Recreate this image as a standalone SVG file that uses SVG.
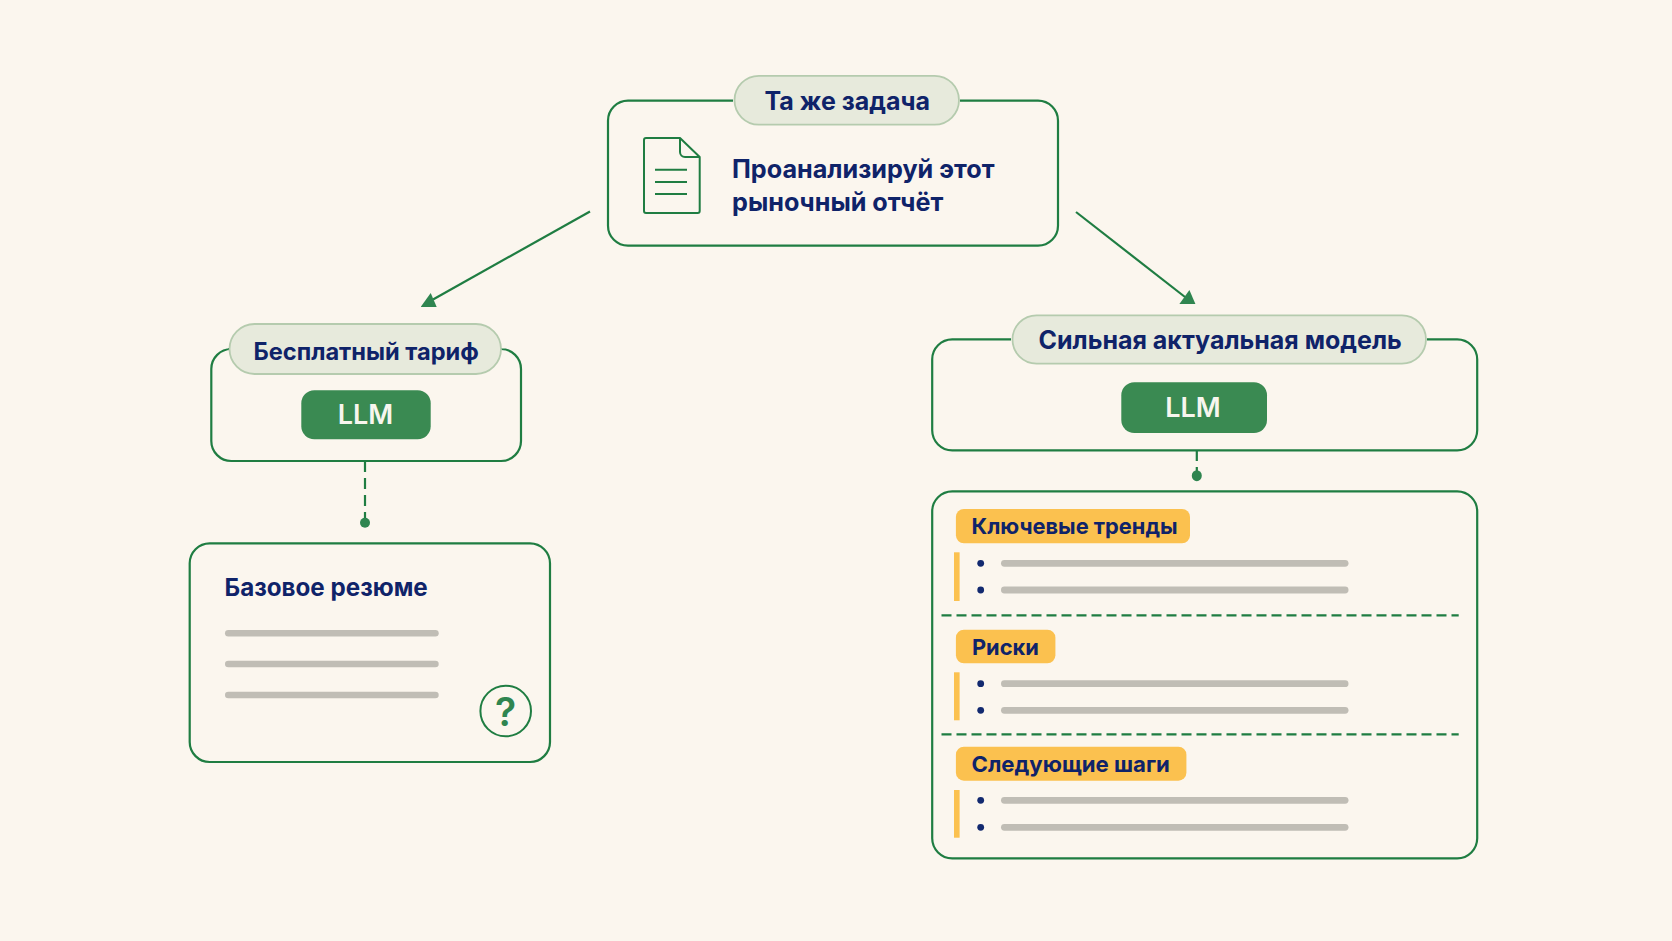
<svg xmlns="http://www.w3.org/2000/svg" width="1672" height="941" viewBox="0 0 1672 941">
<style>
.box{fill:none;stroke:#1f7d42;stroke-width:2.2}
.pill{fill:#e7eadc;stroke:#b5cbae;stroke-width:1.8}
.llm{fill:#3a8a52}
.tag{fill:#fbc14f}
.side{fill:#fbc14f}
.bar{fill:#c0bdb5}
.dot{fill:#12296f}
text{font-family:Inter,"Noto Sans","Liberation Sans",sans-serif;font-weight:700;fill:#0f2369}
.t26{font-size:25px}
.t24{font-size:23.6px}
.t22{font-size:21.8px}
.llmt{font-size:27px;fill:#f7f6ee;text-anchor:middle;font-weight:600}
.conn{fill:none;stroke:#1f7d42;stroke-width:2.2}
.dash{stroke-dasharray:11 6}
.sep{stroke-dasharray:10 5}
.end{fill:#2f8550}
</style>
<defs>
<marker id="arrow-l" markerUnits="userSpaceOnUse" markerWidth="18" markerHeight="16" refX="12.3" refY="6.5" orient="0"><polygon points="0,14 16,14 10,0" fill="#2f8550"/></marker>
<marker id="arrow-r" markerUnits="userSpaceOnUse" markerWidth="18" markerHeight="16" refX="5.6" refY="7" orient="0"><polygon points="0,14 16,14 10,0" fill="#2f8550"/></marker>
</defs>
<rect width="1672" height="941" fill="#fbf6ee"/>
<g id="connectors">
<line class="conn" x1="590" y1="211.5" x2="433" y2="299.5" marker-end="url(#arrow-l)"/>
<line class="conn" x1="1076" y1="212" x2="1185" y2="297" marker-end="url(#arrow-r)"/>
<line class="conn dash" x1="365" y1="461" x2="365" y2="518"/>
<circle class="end" cx="365" cy="522.7" r="5"/>
<line class="conn dash" x1="1196.8" y1="450" x2="1196.8" y2="472" stroke-dasharray="11 5"/>
<ellipse class="end" cx="1196.8" cy="475.7" rx="5" ry="5.5"/>
</g>
<g id="task">
<path class="box" d="M733 100.7H628a20 20 0 0 0-20 20V225.7a20 20 0 0 0 20 20H1038a20 20 0 0 0 20-20V120.7a20 20 0 0 0-20-20H960"/>
<rect class="pill" x="734.5" y="75.8" width="224.5" height="48.9" rx="24.4"/>
<text class="t26" x="764.5" y="110">Та же задача</text>
<g id="doc-icon" fill="none" stroke="#1f7d42" stroke-width="2" stroke-linejoin="round">
<path d="M646 138H680L699.7 157V211a2 2 0 0 1-2 2H646a2 2 0 0 1-2-2V140a2 2 0 0 1 2-2Z"/>
<path d="M680 138V152a5 5 0 0 0 5 5H699.7"/>
<path d="M655 169.7H687M655 182H687M655 194H687"/>
</g>
<text x="732" y="178" style="font-size:25.2px">Проанализируй этот</text>
<text x="732" y="210.5" style="font-size:25.2px">рыночный отчёт</text>
</g>
<g id="free-tier">
<path class="box" d="M228 349H231.3a20 20 0 0 0-20 20V441a20 20 0 0 0 20 20H501a20 20 0 0 0 20-20V369a20 20 0 0 0-20-20H502" />
<rect class="pill" x="229.5" y="324" width="271.5" height="50" rx="25"/>
<text class="t24" x="253.5" y="359.5">Бесплатный тариф</text>
<rect class="llm" x="301.3" y="390.3" width="129.4" height="49" rx="13"/>
<text class="llmt" x="365.5" y="424">LLM</text>
</g>
<g id="basic-summary">
<rect class="box" x="189.7" y="543.3" width="360.3" height="218.7" rx="20"/>
<text x="224.5" y="595.5" style="font-size:24.2px">Базовое резюме</text>
<rect class="bar" x="225" y="630" width="213.7" height="6.6" rx="3.3"/>
<rect class="bar" x="225" y="660.7" width="213.7" height="6.6" rx="3.3"/>
<rect class="bar" x="225" y="691.7" width="213.7" height="6.6" rx="3.3"/>
<circle cx="505.7" cy="711" r="25.3" fill="none" stroke="#1f7d42" stroke-width="2"/>
<text x="505.5" y="725.7" text-anchor="middle" style="font-size:39px;font-weight:600;fill:#2f8550">?</text>
</g>
<g id="strong-model">
<path class="box" d="M1011 339.3H952.2a20 20 0 0 0-20 20V430.3a20 20 0 0 0 20 20H1457.2a20 20 0 0 0 20-20V359.3a20 20 0 0 0-20-20H1427"/>
<rect class="pill" x="1012.5" y="315.4" width="413.5" height="48.3" rx="24.1"/>
<text x="1038.5" y="349" style="font-size:25px">Сильная актуальная модель</text>
<rect class="llm" x="1121.3" y="382.3" width="145.7" height="50.7" rx="13"/>
<text class="llmt" x="1193" y="417.3">LLM</text>
</g>
<g id="structured-report">
<rect class="box" x="932.2" y="491.3" width="545" height="367" rx="20"/>
<line class="conn sep" x1="941.5" y1="615.3" x2="1458.7" y2="615.3"/>
<line class="conn sep" x1="941.5" y1="734.3" x2="1458.7" y2="734.3"/>
<g id="section-trends">
<rect class="tag" x="955.9" y="509" width="234.1" height="34.3" rx="8"/>
<text class="t22" x="971.5" y="534">Ключевые тренды</text>
<rect class="side" x="954" y="552.3" width="5.6" height="48.7"/>
<circle class="dot" cx="980.7" cy="563.3" r="3.4"/>
<circle class="dot" cx="980.7" cy="590" r="3.4"/>
<rect class="bar" x="1001" y="559.9" width="347.5" height="6.8" rx="3.4"/>
<rect class="bar" x="1001" y="586.6" width="347.5" height="6.8" rx="3.4"/>
</g>
<g id="section-risks">
<rect class="tag" x="955.9" y="629.7" width="99.5" height="33.6" rx="8"/>
<text class="t22" x="972" y="654.8">Риски</text>
<rect class="side" x="954" y="672.3" width="5.6" height="48"/>
<circle class="dot" cx="980.7" cy="683.7" r="3.4"/>
<circle class="dot" cx="980.7" cy="710.3" r="3.4"/>
<rect class="bar" x="1001" y="680.3" width="347.5" height="6.8" rx="3.4"/>
<rect class="bar" x="1001" y="706.9" width="347.5" height="6.8" rx="3.4"/>
</g>
<g id="section-next">
<rect class="tag" x="955.9" y="746.7" width="230.5" height="34" rx="8"/>
<text x="971.5" y="771.7" style="font-size:22.2px">Следующие шаги</text>
<rect class="side" x="954" y="790" width="5.6" height="47.7"/>
<circle class="dot" cx="980.7" cy="800.3" r="3.4"/>
<circle class="dot" cx="980.7" cy="827.3" r="3.4"/>
<rect class="bar" x="1001" y="796.9" width="347.5" height="6.8" rx="3.4"/>
<rect class="bar" x="1001" y="823.9" width="347.5" height="6.8" rx="3.4"/>
</g>
</g>
</svg>
